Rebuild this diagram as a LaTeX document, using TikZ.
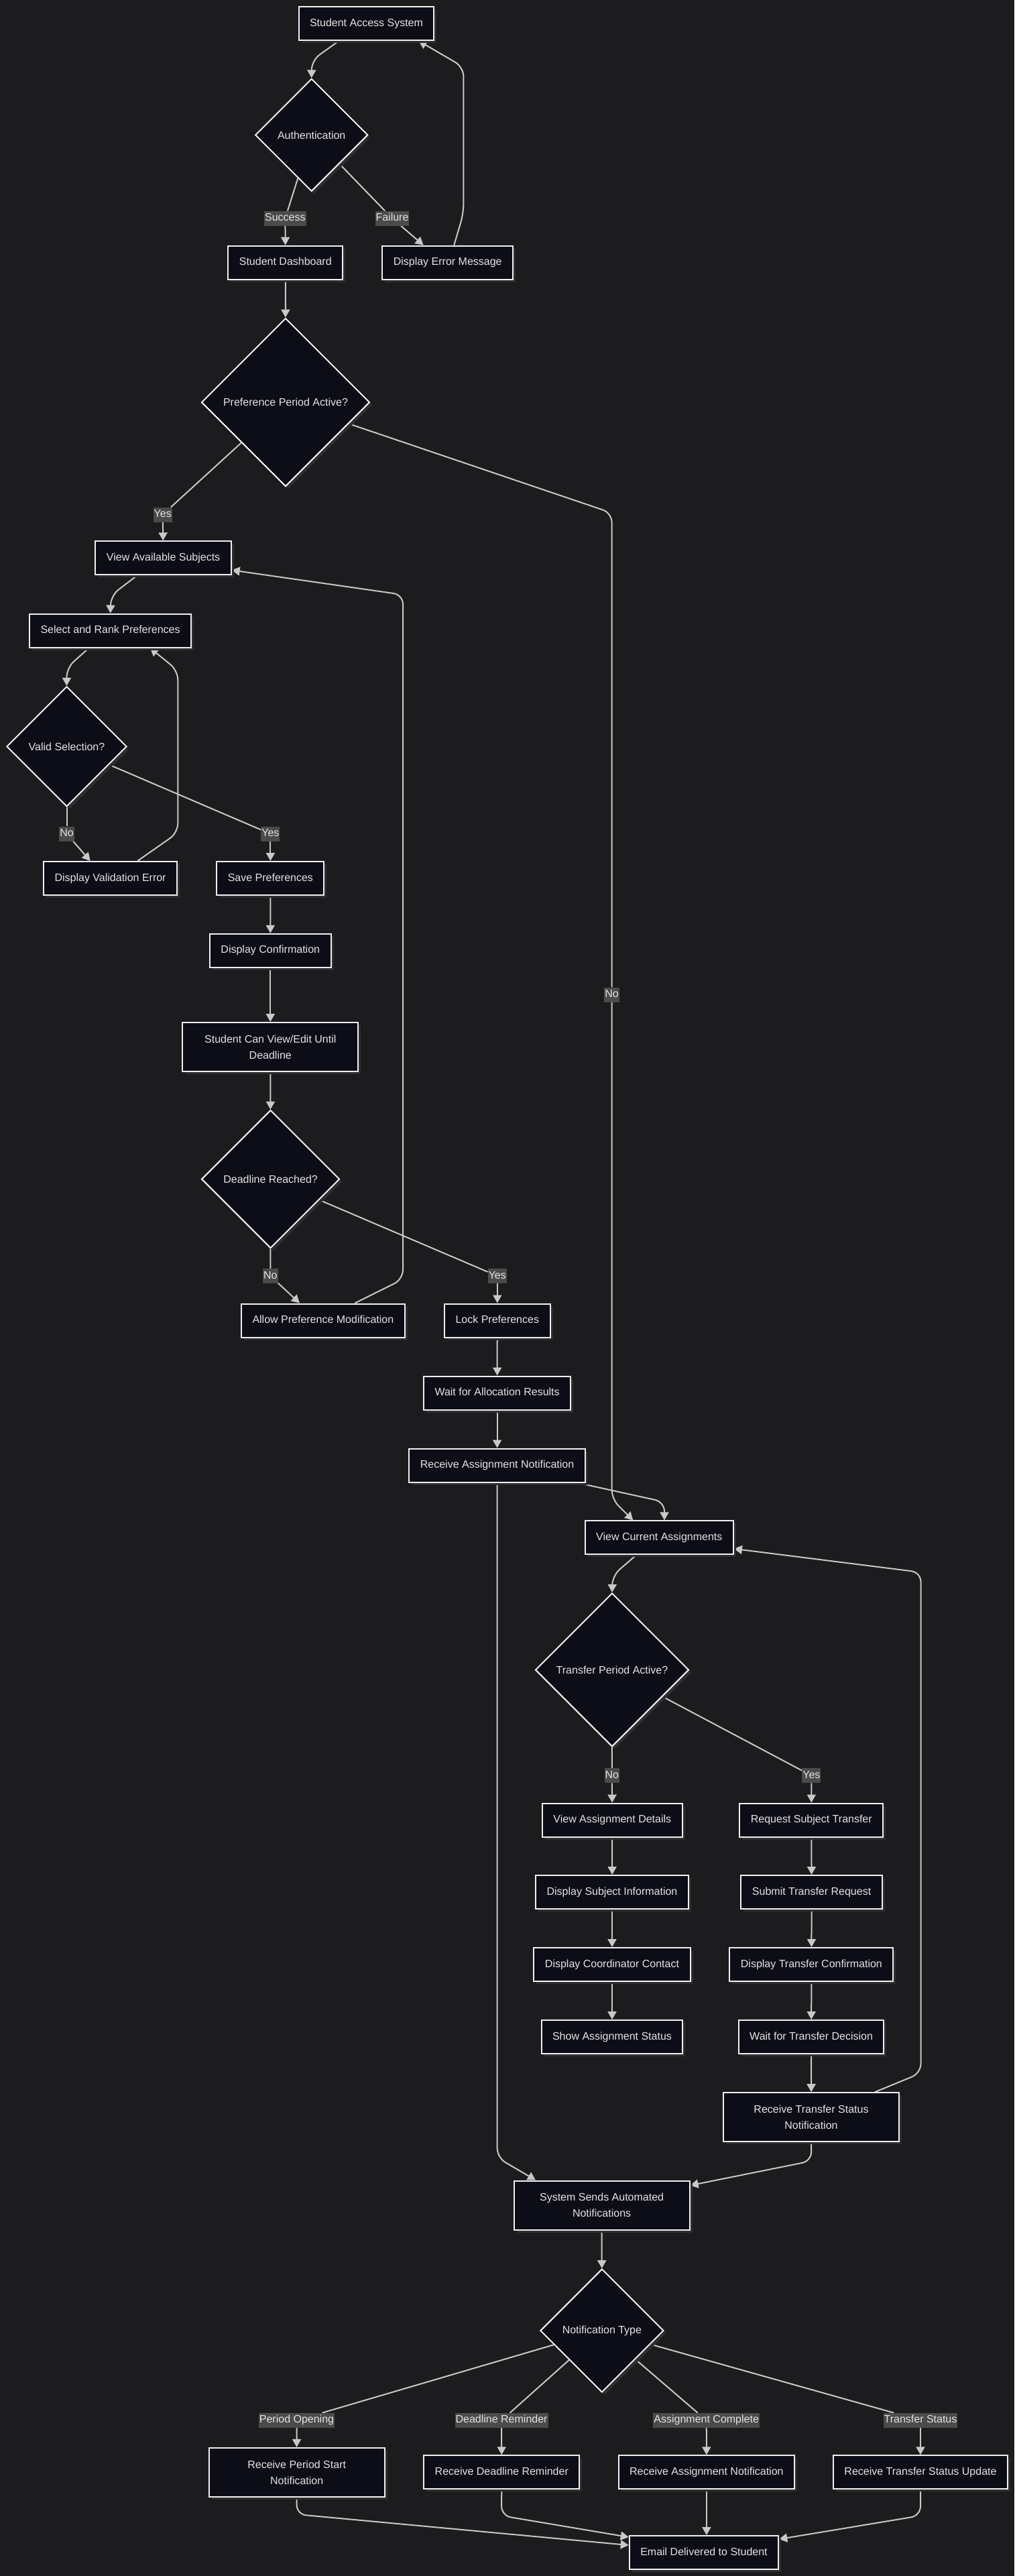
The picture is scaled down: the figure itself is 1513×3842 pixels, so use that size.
\documentclass[tikz,border=0pt]{standalone}
\usepackage{fontspec}
\setmainfont{Liberation Sans}
\usetikzlibrary{shapes.geometric,arrows.meta,shadows}
\definecolor{bgc}{RGB}{28,28,30}
\definecolor{nodefill}{RGB}{12,13,22}
\definecolor{nodeborder}{RGB}{240,240,240}
\definecolor{txt}{RGB}{228,228,228}
\definecolor{edgec}{RGB}{200,200,200}
\definecolor{lblbg}{RGB}{75,75,75}
\definecolor{shadowc}{RGB}{46,46,48}
\pgfdeclarelayer{bglayer}
\pgfdeclarelayer{edgelayer}
\pgfsetlayers{bglayer,edgelayer,main}
\begin{document}
\begin{tikzpicture}[x=1pt,y=-1pt,
  font=\fontsize{16pt}{24pt}\selectfont,
  nshadow/.style={drop shadow={shadow xshift=4pt,shadow yshift=-4pt,fill=shadowc,opacity=1}},
  boxbase/.style={draw=nodeborder,fill=nodefill,line width=2pt,text=txt,inner xsep=16.5pt,inner ysep=0pt,nshadow},
  proc/.style={boxbase,minimum height=50pt,text height=11.5pt,text depth=3.5pt},
  twoline/.style={boxbase,align=center,minimum width=262pt,minimum height=73pt},
  decision/.style={diamond,aspect=1,draw=nodeborder,fill=nodefill,line width=2pt,text=txt,inner sep=0pt,nshadow},
  lbl/.style={fill=lblbg,text=txt,inner xsep=1pt,inner ysep=0pt,text height=12pt,text depth=4pt,minimum height=22pt},
  link/.style={draw=edgec,line width=2pt,rounded corners=14pt},
  arr/.style={link,-{Triangle[length=12pt,width=13pt]}}
]
\path[use as bounding box] (0,0) rectangle (1513,3842);
\begin{pgfonlayer}{bglayer}
\fill[bgc] (0,0) rectangle (1513,3842);
\end{pgfonlayer}

% ---------- nodes ----------
\node[proc] (access) at (546.5,35) {Student Access System};
\node[decision,minimum size=168pt] (auth) at (464.7,201.3) {Authentication};
\node[proc] (dash) at (425.8,391.7) {Student Dashboard};
\node[proc] (err) at (667.7,391.7) {Display Error Message};
\node[decision,minimum size=251pt] (pref) at (426,600) {Preference Period Active?};
\node[proc] (viewav) at (243.6,832.3) {View Available Subjects};
\node[proc] (select) at (164.6,940.5) {Select and Rank Preferences};
\node[decision,minimum size=179pt] (valid) at (99.5,1113.4) {Valid Selection?};
\node[proc] (valerr) at (164.6,1310) {Display Validation Error};
\node[proc] (save) at (403.4,1310) {Save Preferences};
\node[proc] (conf) at (403.3,1417.8) {Display Confirmation};
\node[twoline] (canedit) at (403.3,1561.5) {Student Can View/Edit Until\\Deadline};
\node[decision,minimum size=206pt] (deadline) at (403.6,1758.6) {Deadline Reached?};
\node[proc] (allowmod) at (481.9,1969.5) {Allow Preference Modification};
\node[proc] (lock) at (741.8,1969.5) {Lock Preferences};
\node[proc] (waitalloc) at (741.6,2077.5) {Wait for Allocation Results};
\node[proc] (recvassign) at (741.6,2185.5) {Receive Assignment Notification};
\node[proc] (viewcur) at (983.3,2293.4) {View Current Assignments};
\node[decision,minimum size=229pt] (transfer) at (913,2490.5) {Transfer Period Active?};
\node[proc] (viewdet) at (913.3,2714.5) {View Assignment Details};
\node[proc] (reqtr) at (1210.3,2714.5) {Request Subject Transfer};
\node[proc] (dispsubj) at (913,2822) {Display Subject Information};
\node[proc] (subtr) at (1210.6,2822) {Submit Transfer Request};
\node[proc] (dispcoord) at (913,2930) {Display Coordinator Contact};
\node[proc] (disptrconf) at (1210.4,2930) {Display Transfer Confirmation};
\node[proc] (showstat) at (913,3038) {Show Assignment Status};
\node[proc] (waittr) at (1210.1,3038) {Wait for Transfer Decision};
\node[twoline] (recvts) at (1210,3157.7) {Receive Transfer Status\\Notification};
\node[twoline] (system) at (897.6,3289) {System Sends Automated\\Notifications};
\node[decision,minimum size=184pt] (ntype) at (897.9,3476) {Notification Type};
\node[twoline] (recvps) at (442.7,3687.3) {Receive Period Start\\Notification};
\node[proc] (recvdl) at (748.3,3687.3) {Receive Deadline Reminder};
\node[proc] (recvan) at (1053.9,3687.3) {Receive Assignment Notification};
\node[proc] (recvtsu) at (1373,3687.3) {Receive Transfer Status Update};
\node[proc] (email) at (1050,3807) {Email Delivered to Student};

% ---------- edge labels ----------
\node[lbl] (lSuccess) at (425.4,325.7) {Success};
\node[lbl] (lFailure) at (585,325.7) {Failure};
\node[lbl] (lPrefYes) at (242.7,767.5) {Yes};
\node[lbl] (lPrefNo) at (912.6,1483.5) {No};
\node[lbl] (lValNo) at (99.5,1243.6) {No};
\node[lbl] (lValYes) at (403.4,1243.6) {Yes};
\node[lbl] (lDlNo) at (403.3,1903) {No};
\node[lbl] (lDlYes) at (741.8,1903) {Yes};
\node[lbl] (lTrNo) at (912.8,2648.2) {No};
\node[lbl] (lTrYes) at (1210.4,2648.2) {Yes};
\node[lbl] (lPO) at (442.5,3609.8) {Period Opening};
\node[lbl] (lDR) at (748.1,3609.8) {Deadline Reminder};
\node[lbl] (lAC) at (1053.7,3609.8) {Assignment Complete};
\node[lbl] (lTS) at (1373,3609.8) {Transfer Status};

% ---------- edges ----------
\begin{pgfonlayer}{edgelayer}
\draw[arr] ([xshift=-41pt]access.south) -- (465,90) -- (auth.north);
\draw[link] (auth) -- (lSuccess);
\draw[arr] (lSuccess) -- (dash);
\draw[link] (auth) -- (lFailure);
\draw[arr] (lFailure) -- ([xshift=-36pt]err.north);
\draw[arr] ([xshift=9.5pt]err.north) -- (691.4,318) -- (691.4,100) -- ([xshift=78pt]access.south);
\draw[arr] (dash) -- (pref);
\draw[link] (pref) -- (lPrefYes);
\draw[arr] (lPrefYes) -- (viewav);
\draw[link] (pref) -- (912.6,765) -- (lPrefNo);
\draw[arr] (lPrefNo) -- (912.6,2236) -- ([xshift=-39pt]viewcur.north);
\draw[arr] ([xshift=-39pt]viewav.south) -- (165.5,888) -- (select.north);
\draw[arr] ([xshift=-32pt]select.south) -- (99.5,996) -- (valid.north);
\draw[link] (valid) -- (lValNo);
\draw[arr] (lValNo) -- ([xshift=-30pt]valerr.north);
\draw[link] (valid) -- (lValYes);
\draw[arr] (lValYes) -- (save);
\draw[arr] ([xshift=40.6pt]valerr.north) -- (265.3,1242) -- (265.3,1000) -- ([xshift=59.3pt]select.south);
\draw[arr] (save) -- (conf);
\draw[arr] (conf) -- (canedit);
\draw[arr] (canedit) -- (deadline);
\draw[link] (deadline) -- (lDlNo);
\draw[arr] (lDlNo) -- ([xshift=-35pt]allowmod.north);
\draw[link] (deadline) -- (lDlYes);
\draw[arr] (lDlYes) -- (lock);
\draw[arr] ([xshift=47.5pt]allowmod.north) -- (601,1908) -- (601,887) -- ([yshift=-18pt]viewav.east);
\draw[arr] (lock) -- (waitalloc);
\draw[arr] (waitalloc) -- (recvassign);
\draw[arr] ([xshift=119.6pt]recvassign.south) -- (991,2240) -- ([xshift=7.7pt]viewcur.north);
\draw[arr] (recvassign.south) -- (741.7,3218) -- ([xshift=-98.6pt]system.north);
\draw[arr] ([xshift=-34.4pt]viewcur.south) -- (913.5,2350) -- (transfer.north);
\draw[link] (transfer) -- (lTrNo);
\draw[arr] (lTrNo) -- (viewdet);
\draw[link] (transfer) -- (lTrYes);
\draw[arr] (lTrYes) -- (reqtr);
\draw[arr] (viewdet) -- (dispsubj);
\draw[arr] (dispsubj) -- (dispcoord);
\draw[arr] (dispcoord) -- (showstat);
\draw[arr] (reqtr) -- (subtr);
\draw[arr] (subtr) -- (disptrconf);
\draw[arr] (disptrconf) -- (waittr);
\draw[arr] (waittr) -- (recvts);
\draw[arr] ([xshift=95pt]recvts.north) -- (1373.5,3092) -- (1373.5,2345) -- ([yshift=-16.5pt]viewcur.east);
\draw[arr] (recvts.south) -- (1210.5,3223) -- ([yshift=29.6pt]system.east);
\draw[arr] (system) -- (ntype);
\draw[link] (ntype) -- (lPO);
\draw[arr] (lPO) -- (recvps);
\draw[link] (ntype) -- (lDR);
\draw[arr] (lDR) -- (recvdl);
\draw[link] (ntype) -- (lAC);
\draw[arr] (lAC) -- (recvan);
\draw[link] (ntype) -- (lTS);
\draw[arr] (lTS) -- (recvtsu);
\draw[arr] (recvps.south) -- (442.5,3750) -- ([yshift=11pt]email.west);
\draw[arr] (recvdl.south) -- (748,3752) -- ([yshift=23pt]email.west);
\draw[arr] (recvan.south) -- (recvan.south |- email.north);
\draw[arr] (recvtsu.south) -- (1373,3752) -- ([yshift=20pt]email.east);
\end{pgfonlayer}
\end{tikzpicture}
\end{document}
